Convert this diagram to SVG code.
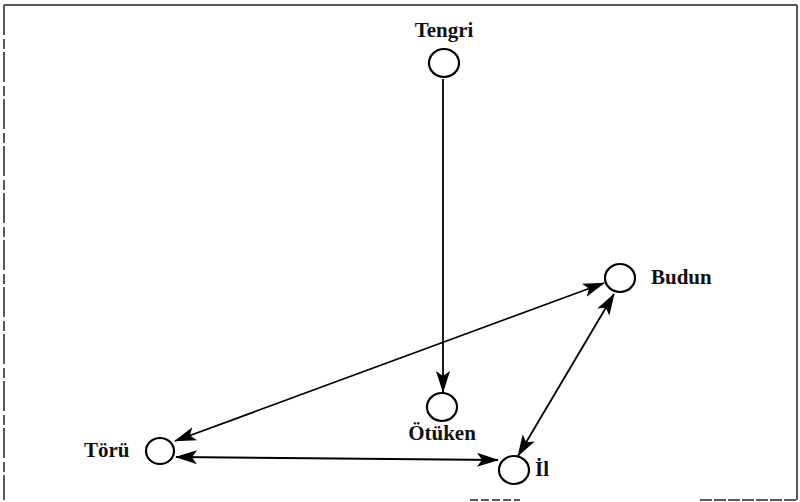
<svg xmlns="http://www.w3.org/2000/svg" width="800" height="502" viewBox="0 0 800 502">
<style>
.node{fill:none;stroke:#000;stroke-width:2.2}
.lbl{font-family:"Liberation Serif","DejaVu Serif",serif;font-size:21px;font-weight:bold;fill:#111}
.edge{stroke:#000;stroke-width:1.8;fill:none}
.frame{stroke:#222;stroke-width:1.5;fill:none}
</style>
<defs>
<marker id="ah" viewBox="0 0 22 14" refX="21" refY="7" markerWidth="22" markerHeight="14" markerUnits="userSpaceOnUse" orient="auto-start-reverse">
<path d="M0,0 L22,7 L0,14 L5,7 Z" fill="#000"/>
</marker>
</defs>
<rect width="800" height="502" fill="#fff"/>
<g id="frame">
<line class="frame" x1="4" y1="5" x2="797" y2="5"/>
<line class="frame" x1="797" y1="5" x2="797" y2="500"/>
<line class="frame" x1="4" y1="5" x2="4" y2="500" stroke="#999" stroke-width="1" stroke-dasharray="30 4 10 3"/>
<line class="frame" x1="470" y1="500" x2="520" y2="500" stroke="#999" stroke-dasharray="8 3"/>
<line class="frame" x1="700" y1="500" x2="797" y2="500" stroke="#999" stroke-dasharray="12 2"/>
</g>
<g id="connectors">
<line class="edge" x1="443" y1="79" x2="443" y2="392" marker-end="url(#ah)"/>
<line class="edge" x1="175" y1="441" x2="604" y2="283" marker-start="url(#ah)" marker-end="url(#ah)"/>
<line class="edge" x1="176" y1="457" x2="498" y2="460" marker-start="url(#ah)" marker-end="url(#ah)"/>
<line class="edge" x1="614" y1="294" x2="518" y2="456" marker-start="url(#ah)" marker-end="url(#ah)"/>
</g>
<g id="tengri">
<ellipse class="node" cx="444" cy="63" rx="15" ry="14"/>
<text class="lbl" x="444" y="37" text-anchor="middle">Tengri</text>
</g>
<g id="otuken">
<ellipse class="node" cx="442" cy="407" rx="15" ry="14"/>
<text class="lbl" x="442" y="440" text-anchor="middle">Ötüken</text>
</g>
<g id="toru">
<ellipse class="node" cx="160" cy="451" rx="14" ry="13"/>
<text class="lbl" x="84" y="457">Törü</text>
</g>
<g id="il">
<ellipse class="node" cx="514" cy="470" rx="15" ry="14"/>
<text class="lbl" x="535" y="476">İl</text>
</g>
<g id="budun">
<ellipse class="node" cx="620" cy="278" rx="15" ry="14"/>
<text class="lbl" x="651" y="284">Budun</text>
</g>
</svg>
